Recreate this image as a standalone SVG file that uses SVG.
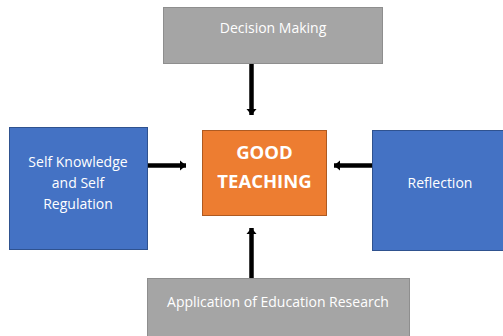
<svg xmlns="http://www.w3.org/2000/svg" width="503" height="336" viewBox="0 0 503 336">
<style>
.gray{fill:#A5A5A5;stroke:#8E8E8E;stroke-width:1}
.blue{fill:#4472C4;stroke:#2F528F;stroke-width:1}
.orange{fill:#ED7D31;stroke:#AE5A21;stroke-width:1}
.t{font-family:"Open Sans","Liberation Sans",sans-serif;font-size:14px;fill:#FFFFFF;text-anchor:middle}
.b{font-family:"Open Sans","Liberation Sans",sans-serif;font-size:18.5px;font-weight:bold;fill:#FFFFFF;text-anchor:middle}
.c{stroke:#000;stroke-width:4.5;fill:none}
</style>
<defs>
<marker id="ah" markerUnits="userSpaceOnUse" markerWidth="12" markerHeight="12" refX="6" refY="6" orient="auto">
<path d="M0,1 L6,6 L0,11 Z" fill="#000"/>
</marker>
</defs>
<g id="decision"><rect class="gray" x="163.5" y="7.5" width="219" height="56"/><text class="t" x="273" y="33">Decision Making</text></g>
<g id="self"><rect class="blue" x="9.5" y="127.5" width="138" height="122"/><text class="t" x="78" y="167">Self Knowledge</text><text class="t" x="78" y="188">and Self</text><text class="t" x="78" y="209">Regulation</text></g>
<g id="good"><rect class="orange" x="202.5" y="130.5" width="124" height="85"/><text class="b" x="264.5" y="159">GOOD</text><text class="b" x="264.5" y="188">TEACHING</text></g>
<g id="reflection"><rect class="blue" x="372.5" y="130.5" width="140" height="120"/><text class="t" x="440" y="188">Reflection</text></g>
<g id="research"><rect class="gray" x="147.5" y="278.5" width="262" height="70"/><text class="t" x="278" y="307">Application of Education Research</text></g>
<g id="connectors">
<line class="c" x1="251.5" y1="64" x2="251.5" y2="115" marker-end="url(#ah)"/>
<line class="c" x1="148" y1="165.5" x2="186" y2="165.5" marker-end="url(#ah)"/>
<line class="c" x1="372" y1="165.5" x2="334" y2="165.5" marker-end="url(#ah)"/>
<line class="c" x1="251.5" y1="278" x2="251.5" y2="228" marker-end="url(#ah)"/>
</g>
</svg>
